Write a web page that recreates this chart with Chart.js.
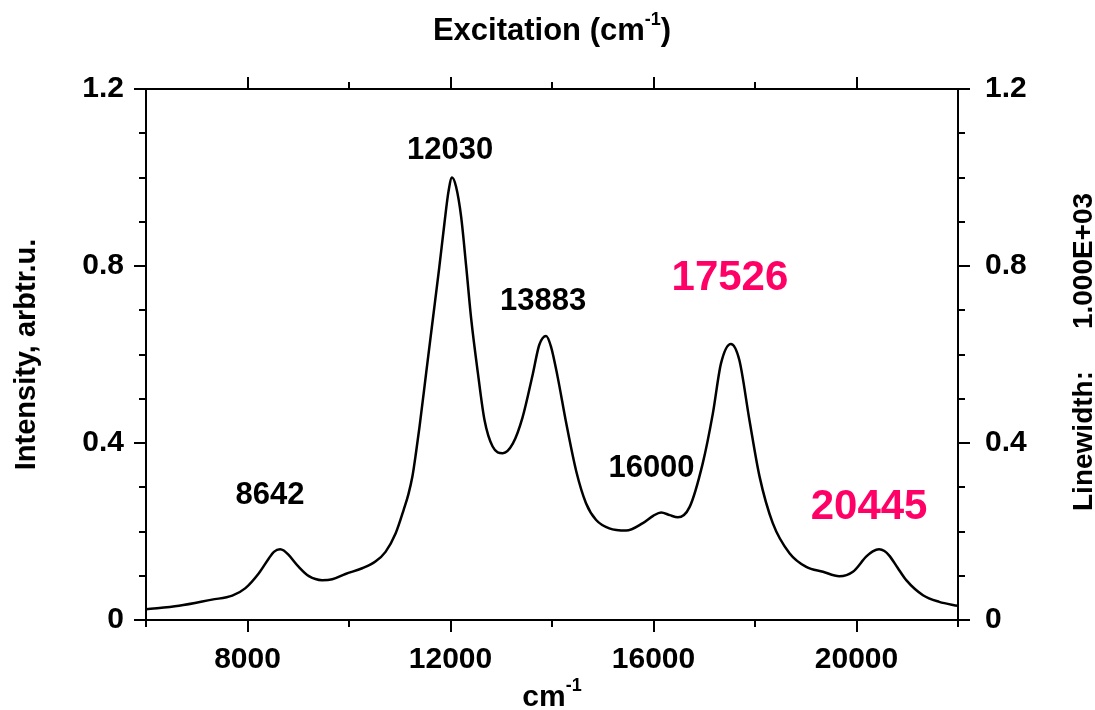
<!DOCTYPE html>
<html>
<head>
<meta charset="utf-8">
<title>Excitation spectrum</title>
<script src="https://cdn.jsdelivr.net/npm/chart.js@4.4.0/dist/chart.umd.min.js"></script>
<style>
  html, body { margin: 0; padding: 0; background: #fff; }
  canvas { display: block; }
</style>
</head>
<body>
<canvas id="spectrum" width="1095" height="710"></canvas>
<script>
// excitation spectrum, wavenumber in cm-1, intensity normalised to the 12030 band
var wavenumber = [6000, 6650, 7300, 7700, 7960, 8220, 8420, 8520, 8642, 8715,
  8810, 9010, 9210, 9470, 9670, 9930, 10260, 10520, 10720, 10920,
  11080, 11170, 11250, 11320, 11390, 11520, 11650, 11780, 11880, 11960,
  12030, 12110, 12210, 12310, 12410, 12540, 12670, 12830, 13030, 13230,
  13420, 13620, 13750, 13883, 13980, 14110, 14280, 14480, 14670, 14870,
  15130, 15460, 15790, 16000, 16150, 16320, 16480, 16710, 16970, 17170,
  17330, 17526, 17690, 17890, 18090, 18350, 18680, 19010, 19340, 19660,
  19930, 20190, 20320, 20445, 20550, 20650, 20810, 20980, 21310, 21630,
  22000];
var intensity = [0.024, 0.032, 0.046, 0.055, 0.072, 0.105, 0.139, 0.154, 0.160, 0.157,
  0.147, 0.120, 0.099, 0.090, 0.092, 0.104, 0.117, 0.132, 0.154, 0.196,
  0.250, 0.284, 0.325, 0.378, 0.437, 0.558, 0.678, 0.798, 0.896, 0.968,
  1.000, 0.979, 0.911, 0.798, 0.678, 0.558, 0.452, 0.392, 0.377, 0.399,
  0.458, 0.555, 0.622, 0.642, 0.618, 0.550, 0.445, 0.335, 0.264, 0.226,
  0.207, 0.202, 0.219, 0.236, 0.243, 0.237, 0.232, 0.255, 0.354, 0.467,
  0.580, 0.624, 0.588, 0.452, 0.324, 0.219, 0.151, 0.120, 0.109, 0.099,
  0.109, 0.143, 0.155, 0.160, 0.156, 0.145, 0.118, 0.090, 0.056, 0.041,
  0.032];

// band positions printed over the curve
var bandPositions = [8642, 12030, 13883, 16000, 17526, 20445];

// labelled ticks
var xLabelled = [8000, 12000, 16000, 20000];
var yLabelled = [0, 0.4, 0.8, 1.2];

// where each band label goes: height in intensity units, nudge in px
var bandLabelStyle = [
  { y: 0.287, dx: -10, size: 31, color: '#000000' },
  { y: 1.067, dx: -2, size: 31, color: '#000000' },
  { y: 0.725, dx: -3, size: 31, color: '#000000' },
  { y: 0.348, dx: -2, size: 31, color: '#000000' },
  { y: 0.780, dx: -1, size: 42, color: '#ff0066' },
  { y: 0.263, dx: -10, size: 42, color: '#ff0066' }
];

var FONT = '"Liberation Sans", Arial, Helvetica, sans-serif';

var points = [];
for (var i = 0; i < wavenumber.length; i++) {
  points.push({ x: wavenumber[i], y: intensity[i] });
}

function bold(size) {
  return 'bold ' + size + 'px ' + FONT;
}

// text with a superscript, centred on cx
function drawWithSup(ctx, parts, cx, baseline) {
  var total = 0;
  parts.forEach(function (p) {
    ctx.font = bold(p.size);
    p.w = ctx.measureText(p.text).width;
    total += p.w;
  });
  var x = cx - total / 2;
  ctx.textAlign = 'left';
  ctx.textBaseline = 'alphabetic';
  parts.forEach(function (p) {
    ctx.font = bold(p.size);
    ctx.fillText(p.text, x, baseline - (p.rise || 0));
    x += p.w;
  });
}

function drawRotated(ctx, text, cx, cy, size) {
  ctx.save();
  ctx.translate(cx, cy);
  ctx.rotate(-Math.PI / 2);
  ctx.font = bold(size);
  ctx.textAlign = 'center';
  ctx.textBaseline = 'alphabetic';
  ctx.fillText(text, 0, 0);
  ctx.restore();
}

var decorations = {
  id: 'decorations',
  afterDraw: function (chart) {
    var ctx = chart.ctx;
    var a = chart.chartArea;
    var xs = chart.scales.x;
    var ys = chart.scales.y;
    ctx.save();
    ctx.strokeStyle = '#000';
    ctx.lineWidth = 2;
    ctx.beginPath();
    // bottom and top ticks, every 2000 cm-1
    for (var v = 6000; v <= 22000; v += 2000) {
      var px = Math.round(xs.getPixelForValue(v));
      var len = xLabelled.indexOf(v) >= 0 ? 12 : 7;
      ctx.moveTo(px, a.bottom);
      ctx.lineTo(px, a.bottom + len);
      if (v > 6000 && v < 22000) {
        ctx.moveTo(px, a.top);
        ctx.lineTo(px, a.top - len);
      }
    }
    // left and right ticks, every 0.1
    for (var k = 0; k <= 12; k++) {
      var py = Math.round(ys.getPixelForValue(k / 10));
      var l = k % 4 === 0 ? 12 : 7;
      ctx.moveTo(a.left - l, py);
      ctx.lineTo(a.left, py);
      ctx.moveTo(a.right, py);
      ctx.lineTo(a.right + l, py);
    }
    ctx.stroke();

    // band labels
    ctx.textAlign = 'center';
    ctx.textBaseline = 'alphabetic';
    bandPositions.forEach(function (b, j) {
      var s = bandLabelStyle[j];
      ctx.font = bold(s.size);
      ctx.fillStyle = s.color;
      ctx.fillText(String(b), xs.getPixelForValue(b) + s.dx,
        ys.getPixelForValue(s.y) + s.size * 0.358);
    });

    // axis titles
    ctx.fillStyle = '#000';
    var cx = (a.left + a.right) / 2;
    drawWithSup(ctx, [
      { text: 'Excitation (cm', size: 31 },
      { text: '-1', size: 18, rise: 15 },
      { text: ')', size: 31 }
    ], cx, 40);
    drawWithSup(ctx, [
      { text: 'cm', size: 30 },
      { text: '-1', size: 18, rise: 15 }
    ], cx, 706);
    drawRotated(ctx, 'Intensity, arbtr.u.', 35, (a.top + a.bottom) / 2, 29);
    drawRotated(ctx, 'Linewidth:', 1092, 441, 28);
    drawRotated(ctx, '1.000E+03', 1092, 261, 28);
    ctx.restore();
  }
};

function axisStyle(extra) {
  var base = {
    type: 'linear',
    grid: { drawOnChartArea: false, drawTicks: false },
    border: { display: true, color: '#000', width: 2 }
  };
  for (var key in extra) base[key] = extra[key];
  return base;
}

var tickFont = { family: FONT, size: 30, weight: 'bold' };

function yTickText(v) {
  var t = Math.round(v * 10);
  return yLabelled.indexOf(t / 10) >= 0 ? String(t / 10) : '';
}

new Chart(document.getElementById('spectrum'), {
  type: 'line',
  data: {
    datasets: [{
      data: points,
      xAxisID: 'x',
      yAxisID: 'y',
      borderColor: '#000',
      borderWidth: 2.5,
      pointRadius: 0,
      fill: false,
      cubicInterpolationMode: 'monotone'
    }]
  },
  options: {
    responsive: false,
    devicePixelRatio: 1,
    animation: false,
    layout: { padding: 0 },
    plugins: { legend: { display: false }, tooltip: { enabled: false } },
    scales: {
      x: axisStyle({
        position: 'bottom', min: 6000, max: 22000,
        ticks: {
          stepSize: 2000, autoSkip: false, maxRotation: 0, padding: 22,
          color: '#000', font: tickFont,
          callback: function (v) { return xLabelled.indexOf(v) >= 0 ? String(v) : ''; }
        },
        afterFit: function (s) { s.height = 90; }
      }),
      x2: axisStyle({
        position: 'top', min: 6000, max: 22000,
        ticks: { display: false },
        afterFit: function (s) { s.height = 89; }
      }),
      y: axisStyle({
        position: 'left', min: 0, max: 1.2,
        ticks: {
          stepSize: 0.1, autoSkip: false, padding: 22,
          color: '#000', font: tickFont, callback: yTickText
        },
        afterFit: function (s) { s.width = 146; }
      }),
      y2: axisStyle({
        position: 'right', min: 0, max: 1.2,
        ticks: {
          stepSize: 0.1, autoSkip: false, padding: 27,
          color: '#000', font: tickFont, callback: yTickText
        },
        afterFit: function (s) { s.width = 137; }
      })
    }
  },
  plugins: [decorations]
});
</script>
</body>
</html>
